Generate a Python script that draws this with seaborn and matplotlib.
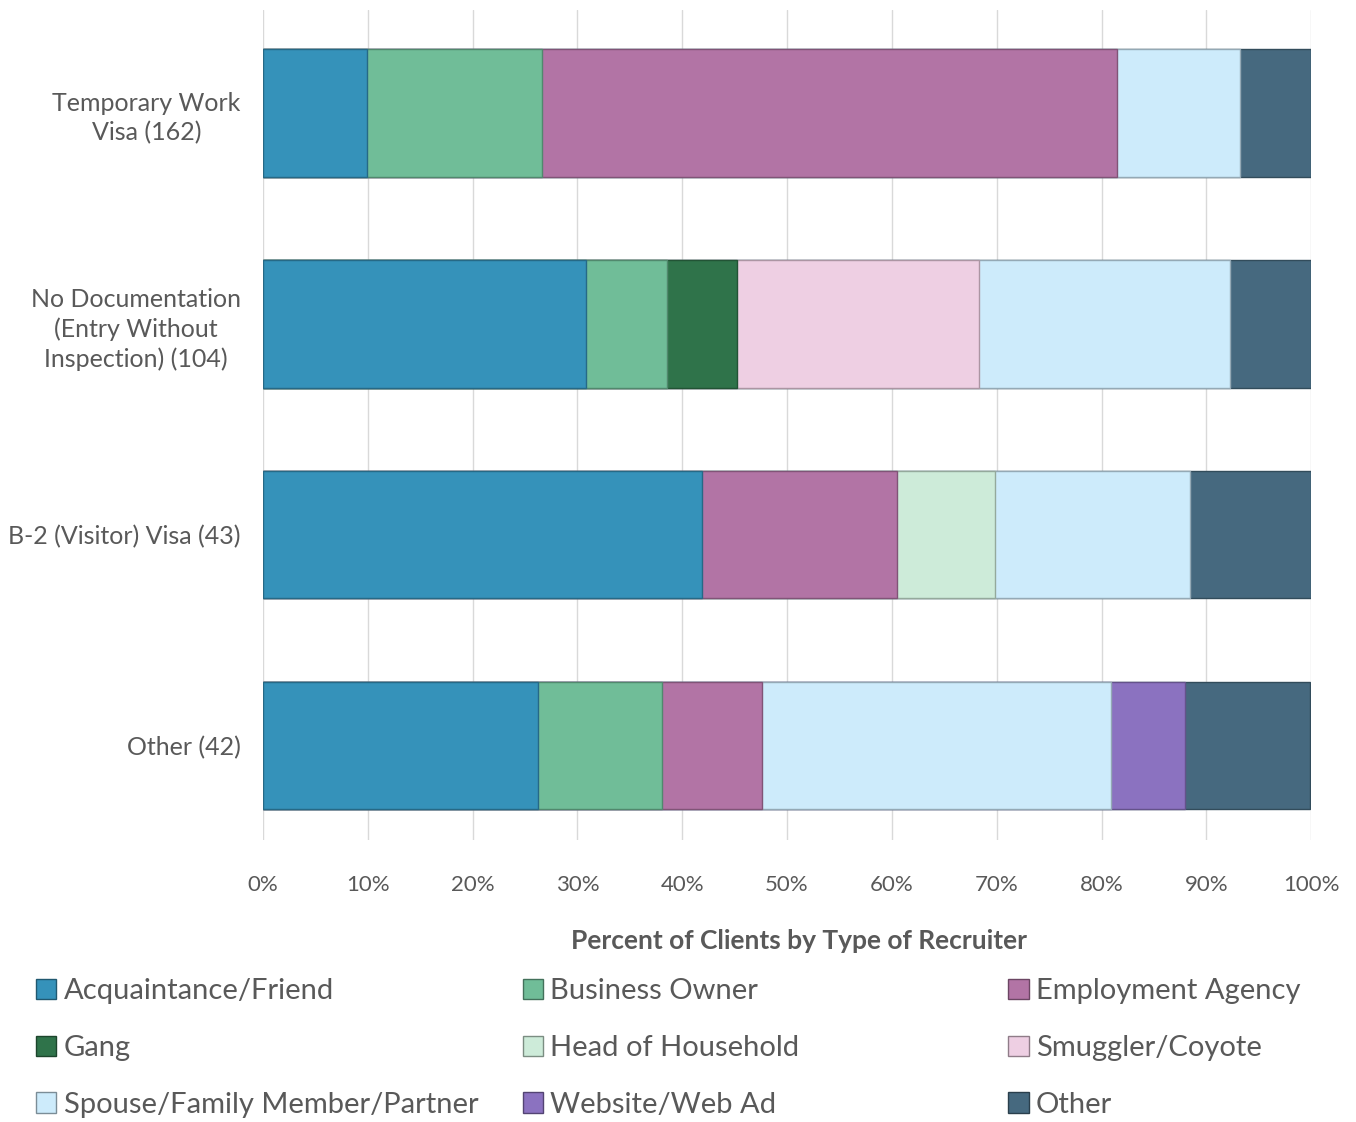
import numpy as np
import pandas as pd
import matplotlib
matplotlib.use("Agg")
import matplotlib.pyplot as plt
from matplotlib.patches import Patch
from matplotlib.colors import to_rgb
import seaborn as sns

# Visa categories (client counts in parentheses)
groups = [
    "Temporary Work\nVisa (162)",
    "No Documentation\n(Entry Without\nInspection) (104)",
    "B-2 (Visitor) Visa (43)",
    "Other (42)",
]

recruiters = [
    "Acquaintance/Friend",
    "Business Owner",
    "Employment Agency",
    "Gang",
    "Head of Household",
    "Smuggler/Coyote",
    "Spouse/Family Member/Partner",
    "Website/Web Ad",
    "Other",
]

# Percent of clients per recruiter type, one list per recruiter (order follows `groups`)
acquaintance = [9.9, 30.8, 41.9, 26.2]
business_owner = [16.7, 7.7, 0.0, 11.9]
employment_agency = [54.9, 0.0, 18.6, 9.5]
gang = [0.0, 6.7, 0.0, 0.0]
head_of_household = [0.0, 0.0, 9.3, 0.0]
smuggler = [0.0, 23.1, 0.0, 0.0]
spouse_family = [11.7, 24.0, 18.6, 33.3]
website = [0.0, 0.0, 0.0, 7.1]
other = [6.8, 7.7, 11.6, 11.9]

colors = ["#3592BA", "#70BD98", "#B274A5", "#2F734A", "#CDEBD9",
          "#EECFE3", "#CDEBFB", "#8B72C0", "#46697F"]

series = [acquaintance, business_owner, employment_agency, gang,
          head_of_household, smuggler, spouse_family, website, other]

TEXT = "#595959"

sns.set_theme(style="white")
plt.rcParams["font.family"] = ["Lato", "DejaVu Sans"]

fig = plt.figure(figsize=(13.56, 11.22), dpi=100)
ax = fig.add_axes([0.194, 0.2513, 0.7729, 0.7398])

values = pd.DataFrame(dict(zip(recruiters, series)), index=groups)
cum = values.cumsum(axis=1)


def darker(c, f=0.72):
    r, g, b = to_rgb(c)
    return (r * f, g * f, b * f)


# Stacked bars: draw cumulative totals from the outermost layer inward
for i in range(len(recruiters) - 1, -1, -1):
    name = recruiters[i]
    mask = values[name] > 0
    df = pd.DataFrame({"group": cum.index[mask], "pct": cum[name][mask].values})
    if df.empty:
        continue
    sns.barplot(data=df, x="pct", y="group", order=groups, orient="h",
                color=colors[i], saturation=1, width=0.605,
                edgecolor=darker(colors[i]), linewidth=1.0, ax=ax)

ax.set_xlim(0, 100)
ax.set_ylim(3.45, -0.49)
ax.set_xticks(np.arange(0, 101, 10))
ax.set_xticklabels([f"{v}%" for v in range(0, 101, 10)])
ax.xaxis.grid(True, color="#d9d9d9", linewidth=1.0)
ax.set_axisbelow(True)
for s in ax.spines.values():
    s.set_visible(False)

ax.tick_params(axis="x", length=0, pad=25, labelsize=16, labelcolor=TEXT)
ax.tick_params(axis="y", length=0, pad=16, labelsize=18, labelcolor=TEXT)
for lab in ax.get_yticklabels():
    lab.set_multialignment("center")
    lab.set_linespacing(1.33)

ax.set_ylabel("")
ax.set_xlabel("Percent of Clients by Type of Recruiter", fontsize=19,
              fontweight="bold", color=TEXT, labelpad=25)
ax.xaxis.label.set_x(0.511)

# Legend: three columns placed across the bottom, filled row by row
handles = [Patch(facecolor=c, edgecolor=darker(c, 0.6), linewidth=1.0) for c in colors]
col_x = [0.0265, 0.3855, 0.7435]
for col in range(3):
    idx = [col, col + 3, col + 6]
    fig.legend([handles[k] for k in idx], [recruiters[k] for k in idx],
               loc="upper left", bbox_to_anchor=(col_x[col], 0.128),
               frameon=False, fontsize=21, labelcolor=TEXT,
               handlelength=0.7, handleheight=0.7, handletextpad=0.25,
               labelspacing=1.05, borderaxespad=0, borderpad=0)

fig.savefig("out.png", dpi=100, facecolor="white")
